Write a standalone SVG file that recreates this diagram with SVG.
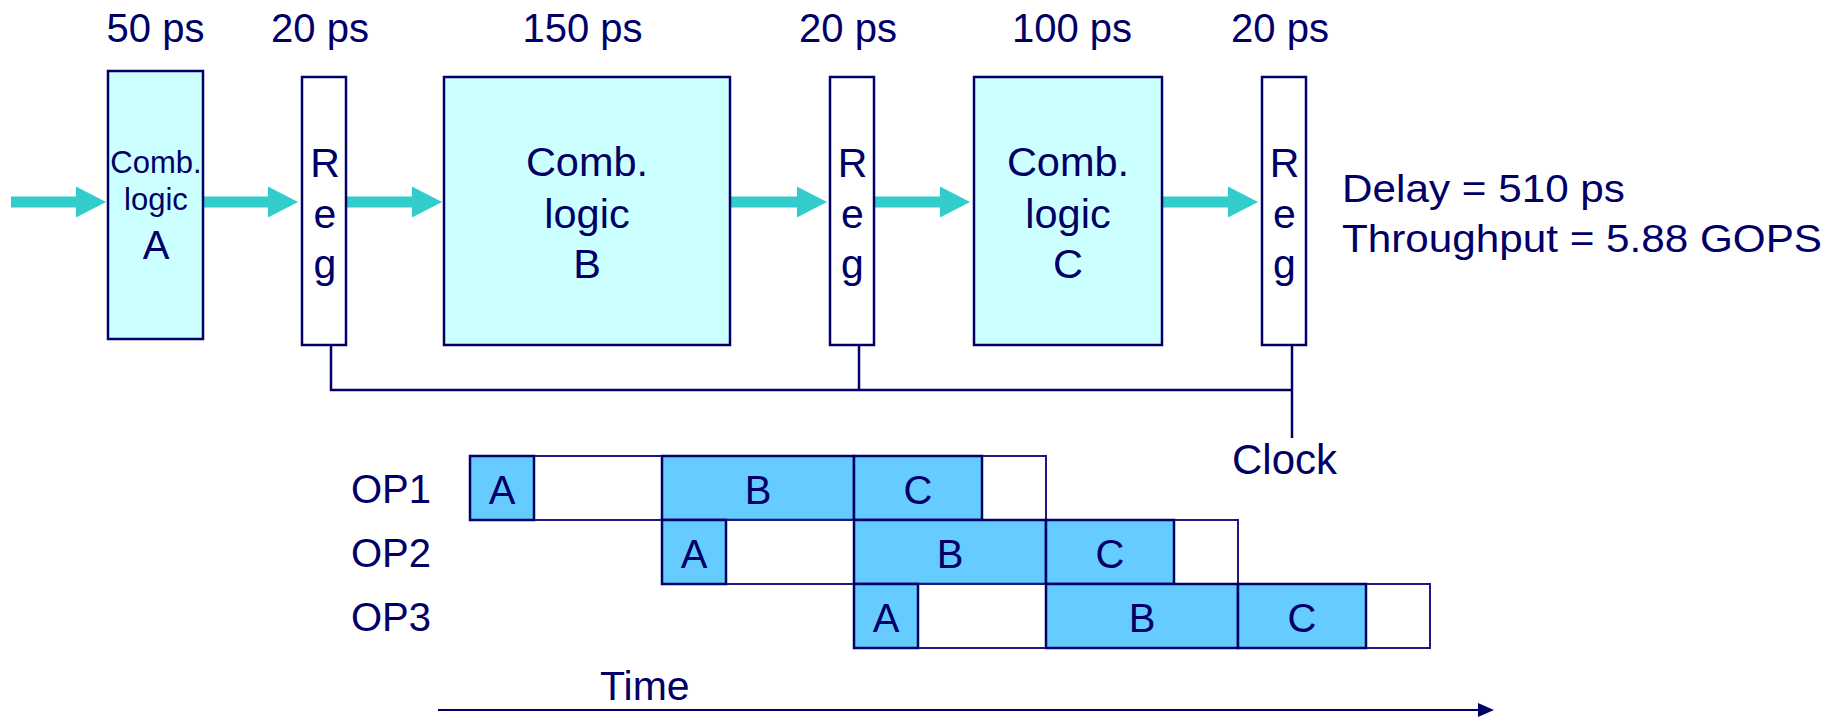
<svg xmlns="http://www.w3.org/2000/svg" width="1830" height="720" viewBox="0 0 1830 720">
<style>
text{font-family:"Liberation Sans",Arial,sans-serif;fill:#000066}
.t40{font-size:40px}
.c{text-anchor:middle}
.comb{fill:#CCFFFF;stroke:#000066;stroke-width:2.5}
.reg{fill:#FFFFFF;stroke:#000066;stroke-width:2.5}
.flow{stroke:#33CCCC;stroke-width:11;fill:none}
.clk{stroke:#000066;stroke-width:2.5;fill:none}
.blue{fill:#66CCFF;stroke:#000066;stroke-width:2.5}
.white{fill:#FFFFFF;stroke:#1A1A80;stroke-width:2}
</style>
<defs>
<marker id="ah" markerUnits="userSpaceOnUse" markerWidth="31" markerHeight="31" refX="0" refY="15.5" orient="auto" overflow="visible">
<path d="M0,0 L30,15.5 L0,31 Z" fill="#33CCCC"/>
</marker>
<marker id="th" markerUnits="userSpaceOnUse" markerWidth="17" markerHeight="15" refX="0" refY="7" orient="auto" overflow="visible">
<path d="M0,0 L16,7 L0,14 Z" fill="#000066"/>
</marker>
</defs>
<rect width="1830" height="720" fill="#FFFFFF"/>

<g id="stage-labels" class="t40">
<text class="c t40" x="155.5" y="42">50 ps</text>
<text class="c t40" x="320" y="42">20 ps</text>
<text class="c t40" x="582.5" y="42">150 ps</text>
<text class="c t40" x="848" y="42">20 ps</text>
<text class="c t40" x="1072" y="42">100 ps</text>
<text class="c t40" x="1280" y="42">20 ps</text>
</g>

<g id="connectors">
<line class="flow" x1="11" y1="202" x2="76" y2="202" marker-end="url(#ah)"/>
<line class="flow" x1="204" y1="202" x2="268" y2="202" marker-end="url(#ah)"/>
<line class="flow" x1="347" y1="202" x2="412" y2="202" marker-end="url(#ah)"/>
<line class="flow" x1="731" y1="202" x2="797" y2="202" marker-end="url(#ah)"/>
<line class="flow" x1="875" y1="202" x2="940" y2="202" marker-end="url(#ah)"/>
<line class="flow" x1="1163" y1="202" x2="1228" y2="202" marker-end="url(#ah)"/>
<path class="clk" d="M331,346 V390 H1292"/>
<path class="clk" d="M859,346 V390"/>
<path class="clk" d="M1292,346 V438"/>
<line x1="438" y1="710" x2="1478" y2="710" stroke="#000066" stroke-width="2" marker-end="url(#th)"/>
</g>

<g id="comb-a">
<rect class="comb" x="108" y="71" width="95" height="268"/>
<text class="c" x="156" y="173" font-size="31">Comb.</text>
<text class="c" x="156" y="210" font-size="31">logic</text>
<text class="c" x="156" y="259" font-size="40">A</text>
</g>

<g id="reg-1">
<rect class="reg" x="302" y="77" width="44" height="268"/>
<text class="c" x="325" y="177" font-size="41">R</text>
<text class="c" x="325" y="228" font-size="41">e</text>
<text class="c" x="325" y="278" font-size="41">g</text>
</g>

<g id="comb-b">
<rect class="comb" x="444" y="77" width="286" height="268"/>
<text class="c" x="587" y="176" font-size="41.5">Comb.</text>
<text class="c" x="587" y="228" font-size="41.5">logic</text>
<text class="c" x="587" y="278" font-size="41.5">B</text>
</g>

<g id="reg-2">
<rect class="reg" x="830" y="77" width="44" height="268"/>
<text class="c" x="852.5" y="177" font-size="41">R</text>
<text class="c" x="852.5" y="228" font-size="41">e</text>
<text class="c" x="852.5" y="278" font-size="41">g</text>
</g>

<g id="comb-c">
<rect class="comb" x="974" y="77" width="188" height="268"/>
<text class="c" x="1068" y="176" font-size="41.5">Comb.</text>
<text class="c" x="1068" y="228" font-size="41.5">logic</text>
<text class="c" x="1068" y="278" font-size="41.5">C</text>
</g>

<g id="reg-3">
<rect class="reg" x="1262" y="77" width="44" height="268"/>
<text class="c" x="1284.5" y="177" font-size="41">R</text>
<text class="c" x="1284.5" y="228" font-size="41">e</text>
<text class="c" x="1284.5" y="278" font-size="41">g</text>
</g>

<g id="metrics">
<text x="1342" y="202" font-size="38" textLength="283" lengthAdjust="spacingAndGlyphs">Delay = 510 ps</text>
<text x="1342" y="252" font-size="38" textLength="480" lengthAdjust="spacingAndGlyphs">Throughput = 5.88 GOPS</text>
</g>

<g id="clock-label">
<text class="c" x="1284.5" y="474" font-size="42">Clock</text>
</g>

<g id="op-labels">
<text x="351" y="503" font-size="40">OP1</text>
<text x="351" y="567" font-size="40">OP2</text>
<text x="351" y="631" font-size="40">OP3</text>
</g>

<g id="op1">
<rect class="white" x="534" y="456" width="128" height="64"/>
<rect class="white" x="982" y="456" width="64" height="64"/>
<rect class="blue" x="470" y="456" width="64" height="64"/>
<rect class="blue" x="662" y="456" width="192" height="64"/>
<rect class="blue" x="854" y="456" width="128" height="64"/>
<text class="c" x="502" y="504" font-size="40">A</text>
<text class="c" x="758" y="504" font-size="40">B</text>
<text class="c" x="918" y="504" font-size="40">C</text>
</g>

<g id="op2">
<rect class="white" x="726" y="520" width="128" height="64"/>
<rect class="white" x="1174" y="520" width="64" height="64"/>
<rect class="blue" x="662" y="520" width="64" height="64"/>
<rect class="blue" x="854" y="520" width="192" height="64"/>
<rect class="blue" x="1046" y="520" width="128" height="64"/>
<text class="c" x="694" y="568" font-size="40">A</text>
<text class="c" x="950" y="568" font-size="40">B</text>
<text class="c" x="1110" y="568" font-size="40">C</text>
</g>

<g id="op3">
<rect class="white" x="918" y="584" width="128" height="64"/>
<rect class="white" x="1366" y="584" width="64" height="64"/>
<rect class="blue" x="854" y="584" width="64" height="64"/>
<rect class="blue" x="1046" y="584" width="192" height="64"/>
<rect class="blue" x="1238" y="584" width="128" height="64"/>
<text class="c" x="886" y="632" font-size="40">A</text>
<text class="c" x="1142" y="632" font-size="40">B</text>
<text class="c" x="1302" y="632" font-size="40">C</text>
</g>

<g id="time-label">
<text x="600" y="700" font-size="41">Time</text>
</g>
</svg>
